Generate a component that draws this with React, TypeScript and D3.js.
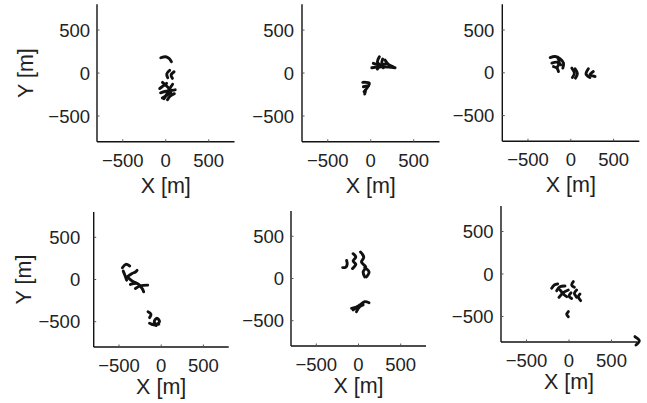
import React from "react";
import * as d3 from "d3";

type Pt = [number, number];

const xTicks = [-500, 0, 500];
const yTicks = [-500, 0, 500];
const axisDomain: [number, number] = [-800, 800];
const xLabel = "X [m]";
const yLabel = "Y [m]";

const tracks1: Pt[][] = [
  [[-58, 178], [0, 190], [38, 170], [66, 132]],
  [[46, 31], [12, -8], [23, -55]],
  [[97, 15], [62, -23], [78, -62]],
  [[-38, -108], [19, -159], [58, -198]],
  [[80, -130], [40, -190], [10, -250], [-20, -300]],
  [[-60, -230], [-10, -215], [50, -205], [110, -195]],
  [[-40, -290], [10, -260], [60, -230]],
  [[20, -310], [50, -270], [100, -240]],
  [[-70, -180], [-30, -150], [10, -120]],
];

const tracks2: Pt[][] = [
  [[12, 62], [147, 73], [283, 62]],
  [[30, 113], [108, 93], [186, 113]],
  [[100, 190], [77, 131], [100, 93], [77, 47]],
  [[166, 151], [205, 101], [263, 73]],
  [[139, 163], [128, 113], [147, 62]],
  [[-93, -108], [-16, -120], [-78, -217]],
  [[-86, -159], [-28, -148]],
  [[-60, -200], [-70, -244]],
];

const tracks3: Pt[][] = [
  [[-241, 178], [-183, 190], [-124, 163], [-85, 113], [-93, 55]],
  [[-221, 113], [-163, 124], [-116, 93]],
  [[-202, 73], [-163, 55], [-144, 15]],
  [[-150, 170], [-135, 120], [-155, 70]],
  [[12, 55], [42, -4], [19, -55]],
  [[50, 47], [77, -8], [54, -62]],
  [[205, 47], [178, -15], [224, -55]],
  [[263, 15], [224, -23], [283, -43]],
];

const tracks4: Pt[][] = [
  [[-460, 140], [-420, 180], [-373, 160]],
  [[-404, 31], [-345, 71], [-306, 89], [-286, 109]],
  [[-450, 100], [-430, 51], [-410, -8]],
  [[-365, -59], [-286, -47], [-227, -106], [-208, -146]],
  [[-306, -106], [-247, -75], [-160, -67]],
  [[-390, 20], [-340, -20], [-300, -40]],
  [[-156, -381], [-121, -412], [-138, -452]],
  [[-138, -518], [-71, -538], [-20, -499], [-51, -459], [-82, -499], [-59, -546]],
  [[-110, -530], [-30, -530]],
];

const tracks5: Pt[][] = [
  [[-188, 129], [-149, 136], [-134, 168], [-141, 215]],
  [[-64, 294], [-32, 254], [-64, 207], [-32, 168], [-71, 118]],
  [[24, 313], [62, 254], [35, 195], [86, 136], [55, 78], [74, 19]],
  [[74, 129], [125, 78], [94, 19]],
  [[-64, -373], [15, -314], [74, -275], [125, -287]],
  [[-82, -353], [-5, -334]],
  [[-24, -393], [15, -334], [55, -314]],
];

const tracks6: Pt[][] = [
  [[-204, -168], [-173, -129], [-133, -118]],
  [[-145, -196], [-106, -149], [-47, -141]],
  [[-118, -274], [-67, -220], [-8, -188]],
  [[-106, -188], [-67, -235], [-27, -267]],
  [[51, -90], [31, -129], [63, -157]],
  [[90, -188], [63, -227], [90, -274]],
  [[129, -235], [110, -267], [137, -314]],
  [[24, -220], [0, -259], [31, -287]],
  [[-8, -443], [-27, -474], [-8, -502]],
  [[776, -737], [827, -784], [788, -835]],
];

const panels = [
  { tracks: tracks1, left: 97, top: 4.3, size: 137.5, showY: true, yGap: 7, xLabDy: 51, yLabX: 25 },
  { tracks: tracks2, left: 302, top: 4.3, size: 137.5, showY: false, yGap: 8, xLabDy: 51, yLabX: 0 },
  { tracks: tracks3, left: 502.3, top: 4.3, size: 137, showY: false, yGap: 8, xLabDy: 51, yLabX: 0 },
  { tracks: tracks4, left: 93.7, top: 212, size: 135, showY: true, yGap: 13.5, xLabDy: 47, yLabX: 23 },
  { tracks: tracks5, left: 291, top: 211, size: 135, showY: false, yGap: 7, xLabDy: 47, yLabX: 0 },
  { tracks: tracks6, left: 501, top: 206, size: 136, showY: false, yGap: 7.5, xLabDy: 47, yLabX: 0 },
];

const fmt = (v: number) => (v < 0 ? "\u2212" + Math.abs(v) : String(v));
const FONT = "'Liberation Sans', Arial, Helvetica, sans-serif";

function Panel({ p }: { p: (typeof panels)[number] }) {
  const x = d3.scaleLinear().domain(axisDomain).range([p.left, p.left + p.size]);
  const y = d3.scaleLinear().domain(axisDomain).range([p.top + p.size, p.top]);
  const line = d3
    .line<Pt>()
    .x((d) => x(d[0]))
    .y((d) => y(d[1]))
    .curve(d3.curveCatmullRom.alpha(0.5));
  const bottom = p.top + p.size;
  return (
    <g>
      {p.tracks.map((t, i) => (
        <path key={i} d={line(t) || ""} fill="none" stroke="#111" strokeWidth={2.9} strokeLinecap="round" strokeLinejoin="round" />
      ))}
      <line x1={p.left} x2={p.left} y1={p.top} y2={bottom} stroke="#111" strokeWidth={1.4} />
      <line x1={p.left} x2={p.left + p.size} y1={bottom} y2={bottom} stroke="#111" strokeWidth={1.4} />
      {xTicks.map((v) => (
        <g key={"x" + v}>
          <line x1={x(v)} x2={x(v)} y1={bottom} y2={bottom - 2.5} stroke="#555" strokeWidth={1} />
          <text x={x(v)} y={bottom + 25} textAnchor="middle" fontSize={18.5} fontFamily={FONT} fill="#222">
            {fmt(v)}
          </text>
        </g>
      ))}
      {yTicks.map((v) => (
        <g key={"y" + v}>
          <line x1={p.left} x2={p.left + 2.5} y1={y(v)} y2={y(v)} stroke="#555" strokeWidth={1} />
          <text x={p.left - p.yGap} y={y(v)} dy="0.36em" textAnchor="end" fontSize={18.5} fontFamily={FONT} fill="#222">
            {fmt(v)}
          </text>
        </g>
      ))}
      <text x={x(0)} y={bottom + p.xLabDy} textAnchor="middle" fontSize={21.5} fontFamily={FONT} fill="#222">
        {xLabel}
      </text>
      {p.showY && (
        <text
          transform={`translate(${p.yLabX},${y(0)}) rotate(-90)`}
          textAnchor="middle"
          dy="0.36em"
          fontSize={21.5}
          fontFamily={FONT}
          fill="#222"
        >
          {yLabel}
        </text>
      )}
    </g>
  );
}

export default function App() {
  return (
    <svg width={647} height={403} style={{ position: "absolute", left: 0, top: 0, background: "#fff" }}>
      <rect width={647} height={403} fill="#fff" />
      {panels.map((p, i) => (
        <Panel key={i} p={p} />
      ))}
    </svg>
  );
}
